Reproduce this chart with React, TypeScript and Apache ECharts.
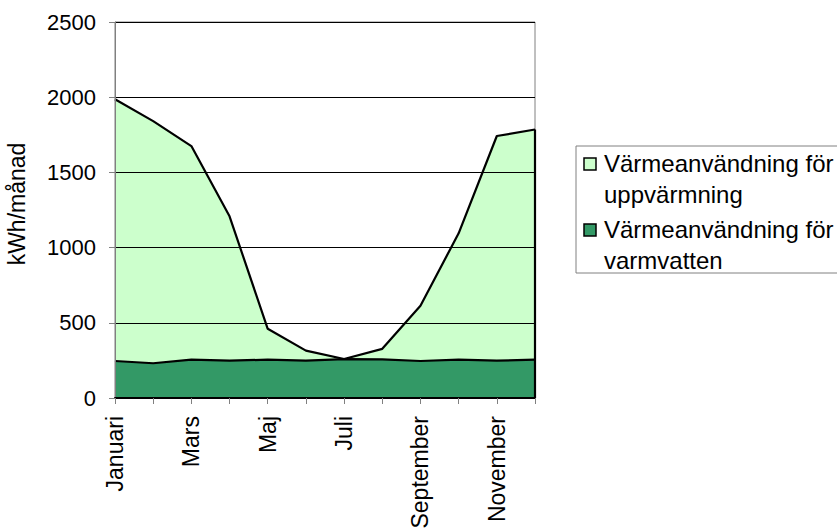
import React, { useEffect, useRef } from "react";
import * as echarts from "echarts";

const months = [
  "Januari", "Februari", "Mars", "April", "Maj", "Juni",
  "Juli", "Augusti", "September", "Oktober", "November", "December",
];
const uppvarmning = [1740, 1610, 1420, 960, 205, 67, 0, 70, 368, 840, 1494, 1530];
const varmvatten = [246, 231, 255, 248, 255, 248, 259, 257, 246, 255, 248, 255];
const yTicks = [0, 500, 1000, 1500, 2000, 2500];
const seriesNames = ["Värmeanvändning för uppvärmning", "Värmeanvändning för varmvatten"];
const legendLines = [
  "Värmeanvändning för\nuppvärmning",
  "Värmeanvändning för\nvarmvatten",
];
const yTitle = "kWh/månad";

const FONT = "'Liberation Sans', Arial, sans-serif";

export default function App() {
  const ref = useRef<HTMLDivElement>(null);
  useEffect(() => {
    if (!ref.current) return;
    const chart = echarts.init(ref.current, null, { renderer: "svg" });
    const last = months.length - 1;
    const lastTotal = uppvarmning[last] + varmvatten[last];
    chart.setOption({
      animation: false,
      backgroundColor: "#ffffff",
      textStyle: { fontFamily: FONT },
      grid: {
        left: 115,
        right: 302,
        top: 22,
        bottom: 134,
        show: true,
        borderColor: "#808080",
        borderWidth: 1,
        backgroundColor: "transparent",
      },
      xAxis: {
        type: "category",
        data: months,
        boundaryGap: false,
        axisLine: { lineStyle: { color: "#000", width: 2 } },
        axisTick: { show: true, length: 6, interval: 0, lineStyle: { color: "#808080" } },
        axisLabel: {
          interval: 1,
          rotate: 90,
          margin: 18,
          color: "#000",
          fontSize: 23,
          fontFamily: FONT,
        },
        splitLine: { show: false },
        z: 5,
      },
      yAxis: {
        type: "value",
        min: yTicks[0],
        max: yTicks[yTicks.length - 1],
        interval: yTicks[1] - yTicks[0],
        axisLine: { show: true, lineStyle: { color: "#808080", width: 1 } },
        axisTick: { show: true, length: 6, lineStyle: { color: "#808080" } },
        axisLabel: {
          margin: 19,
          color: "#000",
          fontSize: 22,
          fontFamily: FONT,
          formatter: (v: number) => String(v),
        },
        splitLine: { show: true, lineStyle: { color: "#000", width: 1 } },
        z: 5,
      },
      series: [
        {
          name: seriesNames[1],
          type: "line",
          stack: "total",
          data: varmvatten,
          symbol: "none",
          lineStyle: { color: "#000", width: 2.2 },
          areaStyle: { color: "#339966", opacity: 1 },
          z: 3,
        },
        {
          name: seriesNames[0],
          type: "line",
          stack: "total",
          data: uppvarmning,
          symbol: "none",
          lineStyle: { color: "#000", width: 2.2 },
          areaStyle: { color: "#CCFFCC", opacity: 1 },
          z: 2,
          markLine: {
            silent: true,
            symbol: "none",
            label: { show: false },
            lineStyle: { color: "#000", width: 2.2, type: "solid" },
            data: [[{ coord: [last, 0] }, { coord: [last, lastTotal] }]],
          },
        },
      ],
      graphic: [
        {
          type: "text",
          x: 17,
          y: 204,
          rotation: Math.PI / 2,
          style: {
            text: yTitle,
            fill: "#000",
            font: `23px ${FONT}`,
            align: "center",
            verticalAlign: "middle",
          },
        },
        {
          type: "rect",
          shape: { x: 576, y: 146, width: 300, height: 127 },
          style: { fill: "#fff", stroke: "#808080", lineWidth: 1 },
        },
        {
          type: "rect",
          shape: { x: 584, y: 158, width: 12, height: 12 },
          style: { fill: "#CCFFCC", stroke: "#000", lineWidth: 1.5 },
        },
        {
          type: "rect",
          shape: { x: 584, y: 224, width: 12, height: 12 },
          style: { fill: "#339966", stroke: "#000", lineWidth: 1.5 },
        },
        {
          type: "text",
          x: 604,
          y: 148,
          style: {
            text: legendLines[0],
            fill: "#000",
            font: `24px ${FONT}`,
            lineHeight: 31,
          },
        },
        {
          type: "text",
          x: 604,
          y: 214,
          style: {
            text: legendLines[1],
            fill: "#000",
            font: `24px ${FONT}`,
            lineHeight: 31,
          },
        },
      ],
    });
    return () => chart.dispose();
  }, []);
  return (
    <div
      ref={ref}
      style={{ position: "absolute", left: 0, top: 0, width: 837, height: 532 }}
    />
  );
}
